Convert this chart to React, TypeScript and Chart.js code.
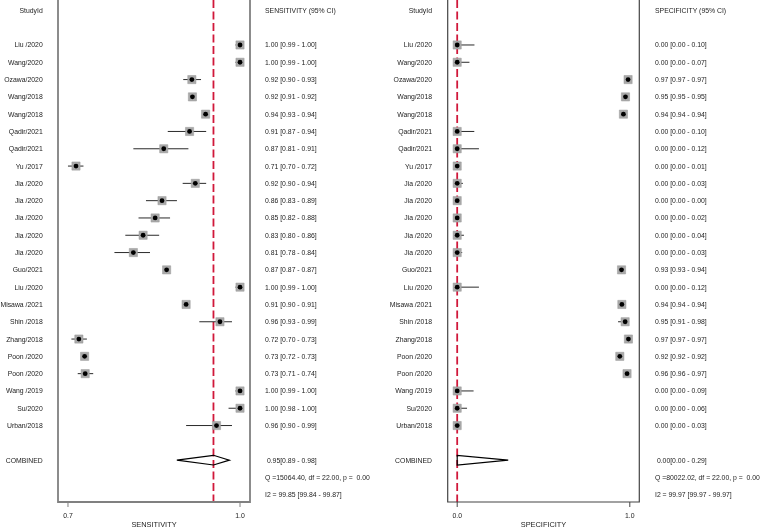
import React, { useEffect, useRef } from 'react';
import { Chart, registerables } from 'chart.js';
Chart.register(...registerables);

const studies = ['Liu /2020','Wang/2020','Ozawa/2020','Wang/2018','Wang/2018','Qadir/2021','Qadir/2021','Yu /2017','Jia /2020','Jia /2020','Jia /2020','Jia /2020','Jia /2020','Guo/2021','Liu /2020','Misawa /2021','Shin /2018','Zhang/2018','Poon /2020','Poon /2020','Wang /2019','Su/2020','Urban/2018'];

const sensEst = [1.0,1.0,0.916,0.917,0.940,0.912,0.867,0.714,0.922,0.864,0.852,0.831,0.814,0.872,1.0,0.906,0.965,0.719,0.729,0.730,1.0,1.0,0.959];
const sensLo = [0.992,0.992,0.901,0.912,0.935,0.874,0.814,0.700,0.900,0.836,0.823,0.800,0.781,0.869,0.992,0.902,0.929,0.706,0.725,0.717,0.992,0.980,0.906];
const sensHi = [1.0,1.0,0.932,0.922,0.944,0.941,0.910,0.727,0.941,0.890,0.878,0.859,0.843,0.875,1.0,0.910,0.986,0.733,0.733,0.744,1.0,1.0,0.986];
const sensText = ['1.00 [0.99 - 1.00]','1.00 [0.99 - 1.00]','0.92 [0.90 - 0.93]','0.92 [0.91 - 0.92]','0.94 [0.93 - 0.94]','0.91 [0.87 - 0.94]','0.87 [0.81 - 0.91]','0.71 [0.70 - 0.72]','0.92 [0.90 - 0.94]','0.86 [0.83 - 0.89]','0.85 [0.82 - 0.88]','0.83 [0.80 - 0.86]','0.81 [0.78 - 0.84]','0.87 [0.87 - 0.87]','1.00 [0.99 - 1.00]','0.91 [0.90 - 0.91]','0.96 [0.93 - 0.99]','0.72 [0.70 - 0.73]','0.73 [0.72 - 0.73]','0.73 [0.71 - 0.74]','1.00 [0.99 - 1.00]','1.00 [0.98 - 1.00]','0.96 [0.90 - 0.99]'];
const sensPooled = [0.9537, 0.8898, 0.9814];
const sensPooledText = [' 0.95[0.89 - 0.98]', 'Q =15064.40, df = 22.00, p =  0.00', 'I2 = 99.85 [99.84 - 99.87]'];
const sensTicks = [0.7, 1.0];
const sensTickLabels = ['0.7', '1.0'];

const specEst = [0,0,0.990,0.975,0.963,0,0,0,0,0,0,0,0,0.952,0,0.954,0.973,0.992,0.942,0.984,0,0,0];
const specLo = [0,0,0.990,0.975,0.963,0,0,0,0,0,0,0,0,0.951,0,0.954,0.932,0.992,0.942,0.983,0,0,0];
const specHi = [0.100,0.071,0.990,0.975,0.963,0.099,0.126,0.010,0.033,0.0,0.020,0.039,0.029,0.956,0.126,0.954,0.996,0.992,0.942,0.986,0.095,0.057,0.021];
const specText = ['0.00 [0.00 - 0.10]','0.00 [0.00 - 0.07]','0.97 [0.97 - 0.97]','0.95 [0.95 - 0.95]','0.94 [0.94 - 0.94]','0.00 [0.00 - 0.10]','0.00 [0.00 - 0.12]','0.00 [0.00 - 0.01]','0.00 [0.00 - 0.03]','0.00 [0.00 - 0.00]','0.00 [0.00 - 0.02]','0.00 [0.00 - 0.04]','0.00 [0.00 - 0.03]','0.93 [0.93 - 0.94]','0.00 [0.00 - 0.12]','0.94 [0.94 - 0.94]','0.95 [0.91 - 0.98]','0.97 [0.97 - 0.97]','0.92 [0.92 - 0.92]','0.96 [0.96 - 0.97]','0.00 [0.00 - 0.09]','0.00 [0.00 - 0.06]','0.00 [0.00 - 0.03]'];
const specPooled = [0.0, 0.0, 0.2955];
const specPooledText = [' 0.00[0.00 - 0.29]', 'Q =80022.02, df = 22.00, p =  0.00', 'I2 = 99.97 [99.97 - 99.97]'];
const specTicks = [0.0, 1.0];
const specTickLabels = ['0.0', '1.0'];

const FONT = '"Liberation Sans", Arial, Helvetica, sans-serif';
const Y_MIN = -2.6;
const Y_MAX = 26.42;

type PanelProps = {
  width: number; height: number; padLeft: number; padRight: number; padBottom: number;
  xMin: number; xMax: number; ticks: number[]; tickLabels: string[];
  title: string; header: string; est: number[]; lo: number[]; hi: number[];
  texts: string[]; pooled: number[]; pooledTexts: string[];
  labelX: number; textX: number; boxColor: string; boxWidth: number;
};

function Panel(p: PanelProps) {
  const ref = useRef<HTMLCanvasElement | null>(null);
  useEffect(() => {
    if (!ref.current) return;
    const n = studies.length;
    const rows = studies.map((_, i) => i);
    const combRow = n + 1;
    const ciData: any[] = [];
    rows.forEach((r) => {
      ciData.push({ x: p.lo[r], y: r });
      ciData.push({ x: p.hi[r], y: r });
      ciData.push({ x: p.hi[r], y: null });
    });
    const pts = rows.map((r) => ({ x: p.est[r], y: r }));
    const h = 0.28;
    const diamond = [
      { x: p.pooled[1], y: combRow },
      { x: p.pooled[0], y: combRow - h },
      { x: p.pooled[2], y: combRow },
      { x: p.pooled[0], y: combRow + h },
      { x: p.pooled[1], y: combRow },
    ];
    const refLine = [{ x: p.pooled[0], y: Y_MIN }, { x: p.pooled[0], y: Y_MAX }];

    const overlay = {
      id: 'overlay',
      afterDraw(chart: any) {
        const ctx = chart.ctx;
        const xs = chart.scales.x;
        const ys = chart.scales.y;
        const ca = chart.chartArea;
        ctx.save();
        ctx.strokeStyle = p.boxColor;
        ctx.lineWidth = p.boxWidth;
        ctx.beginPath();
        ctx.moveTo(ca.left, ca.top);
        ctx.lineTo(ca.left, ca.bottom);
        ctx.lineTo(ca.right, ca.bottom);
        ctx.lineTo(ca.right, ca.top);
        ctx.stroke();
        ctx.lineWidth = 1;
        p.ticks.forEach((t, i) => {
          const x = xs.getPixelForValue(t);
          ctx.beginPath();
          ctx.moveTo(x, ca.bottom);
          ctx.lineTo(x, ca.bottom + 5);
          ctx.stroke();
          ctx.fillStyle = '#222';
          ctx.font = `6.9px ${FONT}`;
          ctx.textAlign = 'center';
          ctx.textBaseline = 'middle';
          ctx.fillText(p.tickLabels[i], x, ca.bottom + 14);
        });
        ctx.font = `7.4px ${FONT}`;
        ctx.textAlign = 'center';
        ctx.fillText(p.title, (ca.left + ca.right) / 2, ca.bottom + 22.5);
        ctx.font = `6.85px ${FONT}`;
        ctx.textBaseline = 'middle';
        ctx.fillStyle = '#222';
        ctx.textAlign = 'right';
        const dy = 0.6;
        ctx.fillText('StudyId', p.labelX, ys.getPixelForValue(-2) + dy);
        studies.forEach((s, i) => ctx.fillText(s, p.labelX, ys.getPixelForValue(i) + dy));
        ctx.fillText('COMBINED', p.labelX, ys.getPixelForValue(combRow) + dy);
        ctx.textAlign = 'left';
        ctx.fillText(p.header, p.textX, ys.getPixelForValue(-2) + dy);
        p.texts.forEach((s, i) => ctx.fillText(s, p.textX, ys.getPixelForValue(i) + dy));
        p.pooledTexts.forEach((s, i) => ctx.fillText(s, p.textX, ys.getPixelForValue(combRow + i) + dy));
        ctx.restore();
      },
    };

    const chart = new Chart(ref.current, {
      type: 'scatter',
      data: {
        datasets: [
          { type: 'scatter', data: pts, pointStyle: 'circle', pointRadius: 2.4, backgroundColor: '#000', borderWidth: 0, order: 0, clip: false } as any,
          { type: 'scatter', data: pts, pointStyle: 'rect', pointRadius: 5.8, backgroundColor: '#a9a9a9', borderColor: '#999', borderWidth: 0.5, order: 1, clip: false } as any,
          { type: 'line', data: diamond, showLine: true, pointRadius: 0, borderColor: '#000', borderWidth: 1.2, backgroundColor: 'transparent', fill: false, tension: 0, order: 2 } as any,
          { type: 'line', data: ciData, showLine: true, spanGaps: false, pointRadius: 0, borderColor: '#2a2a2a', borderWidth: 1, fill: false, tension: 0, order: 3 } as any,
          { type: 'line', data: refLine, showLine: true, pointRadius: 0, borderColor: '#d0183a', borderWidth: 1.8, borderDash: [8, 3.5], fill: false, order: 4 } as any,
        ],
      },
      options: {
        animation: false,
        responsive: false,
        maintainAspectRatio: false,
        layout: { autoPadding: false, padding: { left: p.padLeft, right: p.padRight, top: 0, bottom: p.padBottom } },
        plugins: { legend: { display: false }, tooltip: { enabled: false } },
        scales: {
          x: { type: 'linear', min: p.xMin, max: p.xMax, display: false },
          y: { type: 'linear', min: Y_MIN, max: Y_MAX, reverse: true, display: false },
        },
        elements: { line: { borderCapStyle: 'butt' } },
      } as any,
      plugins: [overlay],
    });
    return () => chart.destroy();
  }, []);
  return <canvas ref={ref} width={p.width} height={p.height} style={{ display: 'block', width: p.width, height: p.height }} />;
}

export default function App() {
  return (
    <div style={{ position: 'absolute', left: 0, top: 0, width: 761, height: 529, display: 'flex', background: '#fff' }}>
      <Panel width={380} height={529} padLeft={58} padRight={130} padBottom={27}
        xMin={0.6826} xMax={1.0174} ticks={sensTicks} tickLabels={sensTickLabels}
        title="SENSITIVITY" header="SENSITIVITY (95% CI)" est={sensEst} lo={sensLo} hi={sensHi}
        texts={sensText} pooled={sensPooled} pooledTexts={sensPooledText}
        labelX={42.7} textX={265} boxColor="#808080" boxWidth={1.8} />
      <Panel width={381} height={529} padLeft={67.7} padRight={121.7} padBottom={27}
        xMin={-0.055} xMax={1.055} ticks={specTicks} tickLabels={specTickLabels}
        title="SPECIFICITY" header="SPECIFICITY (95% CI)" est={specEst} lo={specLo} hi={specHi}
        texts={specText} pooled={specPooled} pooledTexts={specPooledText}
        labelX={52} textX={275} boxColor="#444" boxWidth={1.2} />
    </div>
  );
}
